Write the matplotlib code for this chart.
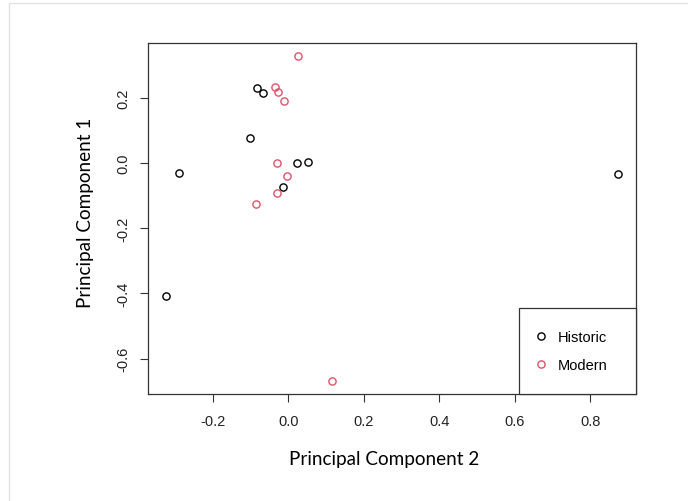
"""PCA scatter: historic vs modern samples (R base-graphics look)."""

import matplotlib
matplotlib.use("Agg")
import matplotlib.pyplot as plt
from matplotlib.patches import Rectangle

# ---- data ----
historic_pc2 = [-0.083, -0.068, -0.102, -0.290, 0.023, 0.051, -0.015, -0.323, 0.873]
historic_pc1 = [0.229, 0.215, 0.076, -0.032, 0.001, 0.002, -0.075, -0.409, -0.033]

modern_pc2 = [0.025, -0.035, -0.027, -0.012, -0.030, -0.003, -0.030, -0.086, 0.117]
modern_pc1 = [0.327, 0.234, 0.218, 0.190, -0.001, -0.039, -0.092, -0.125, -0.670]

group_labels = ["Historic", "Modern"]
group_colors = ["black", "#DF536B"]

x_ticks = [-0.2, 0.0, 0.2, 0.4, 0.6, 0.8]
y_ticks = [-0.6, -0.4, -0.2, 0.0, 0.2]

plt.rcParams["font.family"] = ["Liberation Sans", "DejaVu Sans"]

fig = plt.figure(figsize=(6.88, 5.02), dpi=100)
# faint screenshot border
fig.patches.append(Rectangle((9 / 688, -0.1), 1.2, 1.1 - 4 / 502,
                             transform=fig.transFigure, fill=False,
                             edgecolor="#e2e2e2", linewidth=1.0))

ax = fig.add_axes([0.2151, 0.2131, 0.7089, 0.6992])

for xs, ys, lab, col in zip([historic_pc2, modern_pc2], [historic_pc1, modern_pc1],
                            group_labels, group_colors):
    ax.plot(xs, ys, linestyle="none", marker="o", markersize=5.2,
            markerfacecolor="none", markeredgecolor=col, markeredgewidth=1.0,
            label=lab)

ax.set_xlim(-0.372, 0.921)
ax.set_ylim(-0.709, 0.368)
ax.set_xticks(x_ticks)
ax.set_yticks(y_ticks)
ax.set_xticklabels([f"{v:.1f}" for v in x_ticks])
ax.set_yticklabels([f"{v:.1f}" for v in y_ticks], rotation=90, va="center")
ax.tick_params(length=5.5, width=0.8, color="#333333", labelsize=10.5,
               labelcolor="#222222")
ax.tick_params(axis="x", pad=9)
ax.tick_params(axis="y", pad=7)

for sp in ax.spines.values():
    sp.set_linewidth(0.9)
    sp.set_color("#333333")

# axis titles were placed a bit off-centre in the original
ax.set_xlabel("Principal Component 2", family=["Lato", "DejaVu Sans"],
              fontsize=13.6, labelpad=15.5, x=0.484)
ax.set_ylabel("Principal Component 1", family=["Lato", "DejaVu Sans"],
              fontsize=13.6, labelpad=16, y=0.5185)

leg = ax.legend(loc="lower left", bbox_to_anchor=(0.7607, 0.0, 0.2393, 0.247),
                mode="expand", borderaxespad=0, fancybox=False, framealpha=1,
                edgecolor="#333333", fontsize=10.5, borderpad=1.52,
                labelspacing=0.95, handlelength=0.0, handletextpad=1.15)
leg.get_frame().set_linewidth(0.9)

fig.savefig("out.png", dpi=100)
